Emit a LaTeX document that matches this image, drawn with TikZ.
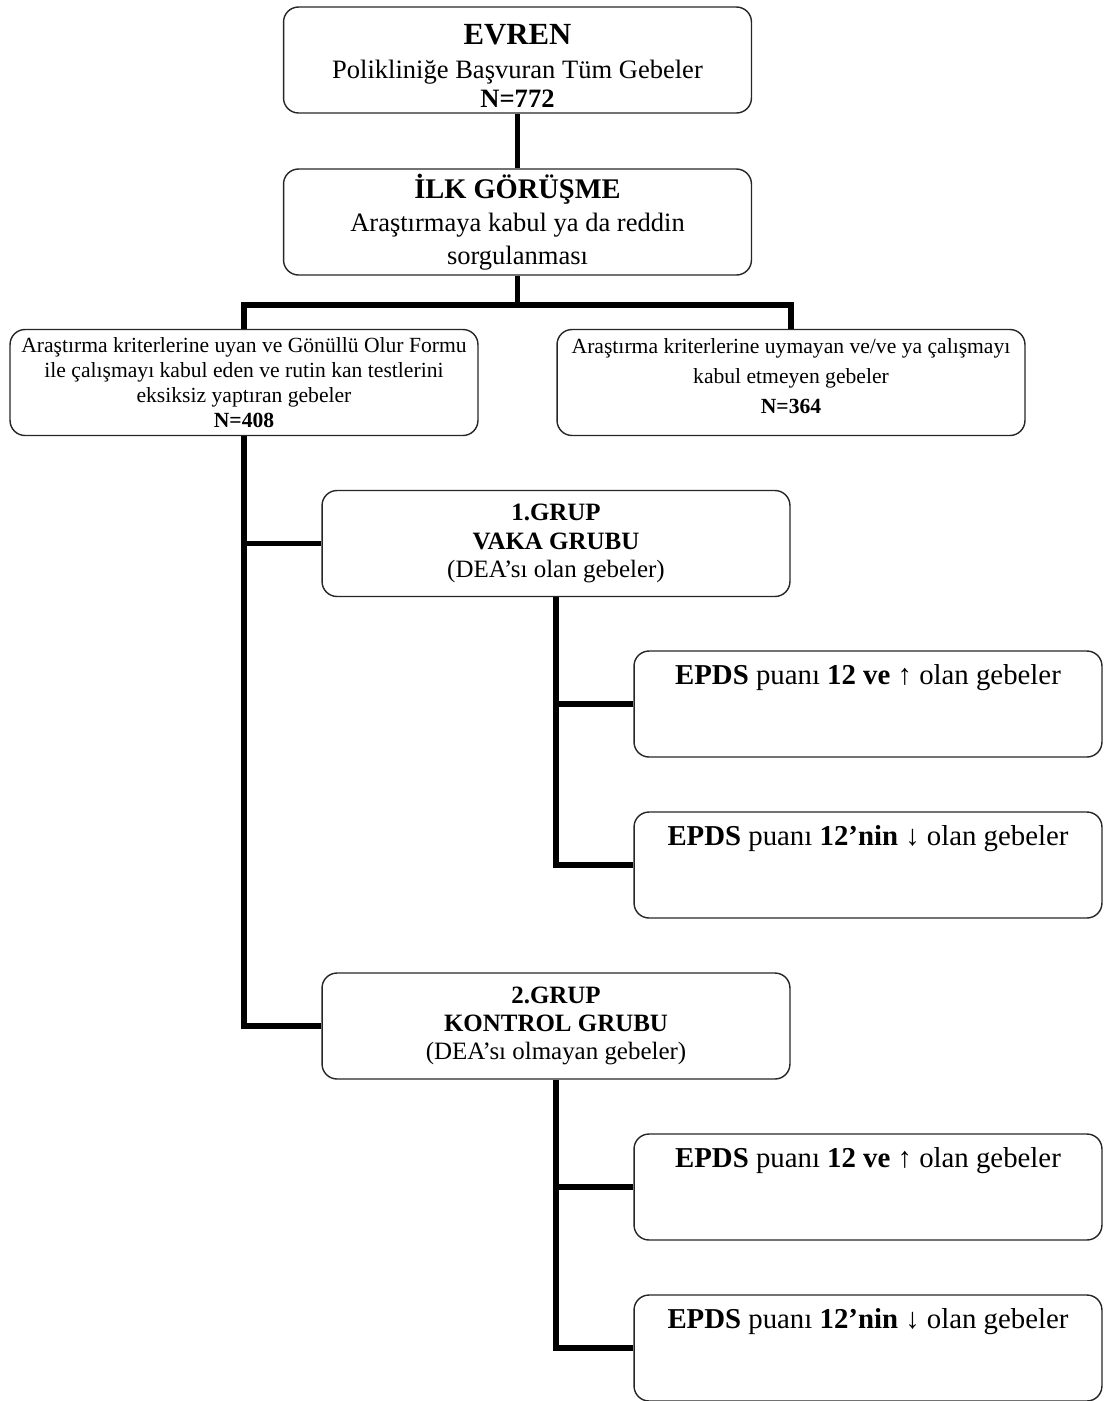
\documentclass[tikz,border=0pt]{standalone}
\usepackage{fontspec}
\setmainfont{Liberation Serif}

\begin{document}
\begin{tikzpicture}[x=0.02cm,y=-0.02cm,
  kutu/.style={draw=black!85, line width=0.8pt, rounded corners=0.3cm,
    minimum width=9.36cm, minimum height=2.12cm, align=center, inner sep=0pt},
  hat/.style={line width=3.4pt},
  orta/.style={font=\fontsize{15.1}{16.6}\selectfont},
  grupyazi/.style={font=\fontsize{14.2}{16}\selectfont},
  kucuk/.style={font=\fontsize{12.3}{14.2}\selectfont},
  epdsyazi/.style={anchor=north, inner sep=0pt, yshift=-0.27cm,
    font=\fontsize{16.4}{18}\selectfont}]

\useasboundingbox (0,0) rectangle (1107,1401);

% Evren ve ilk gorusme
\node[kutu, orta] (evren) at (517.5,60)
  {\rule{0pt}{18pt}{\fontsize{17.5}{20}\selectfont\bfseries EVREN}\\[3pt]
   Polikliniğe Başvuran Tüm Gebeler\\
   \textbf{N=772}};

\node[kutu, orta] (ilk) at (517.5,222)
  {{\fontsize{16.2}{20}\selectfont\bfseries İLK GÖRÜŞME}\\[2pt]
   Araştırmaya kabul ya da reddin\\[2pt]
   sorgulanması};

% Ayrim
\node[kutu, kucuk] (sol) at (244,382.5)
  {Araştırma kriterlerine uyan ve Gönüllü Olur Formu\\
   ile çalışmayı kabul eden ve rutin kan testlerini\\
   eksiksiz yaptıran gebeler\\
   \textbf{N=408}};

\node[kutu, kucuk] (sag) at (791,382.5)
  {Araştırma kriterlerine uymayan ve/ve ya çalışmayı\\[3pt]
   kabul etmeyen gebeler\\[3pt]
   \textbf{N=364}\\[-7pt]};

% Gruplar
\node[kutu, grupyazi] (grup1) at (556,543.5)
  {\textbf{1.GRUP}\\
   \textbf{VAKA GRUBU}\\
   (DEA’sı olan gebeler)};

\node[kutu, grupyazi] (grup2) at (556,1026)
  {\textbf{2.GRUP}\\
   \textbf{KONTROL GRUBU}\\
   (DEA’sı olmayan gebeler)};

% EPDS kutulari
\node[kutu] (e1) at (868,704) {};
\node[kutu] (e2) at (868,865) {};
\node[kutu] (e3) at (868,1187) {};
\node[kutu] (e4) at (868,1348) {};

\node[epdsyazi] (e1y) at (e1.north) {\textbf{EPDS} puanı \textbf{12 ve} ↑ olan gebeler};
\node[epdsyazi] (e2y) at (e2.north) {\textbf{EPDS} puanı \textbf{12’nin} ↓ olan gebeler};
\node[epdsyazi] (e3y) at (e3.north) {\textbf{EPDS} puanı \textbf{12 ve} ↑ olan gebeler};
\node[epdsyazi] (e4y) at (e4.north) {\textbf{EPDS} puanı \textbf{12’nin} ↓ olan gebeler};

% Baglantilar
\coordinate (ayrim) at (517.5,305);
\draw[hat] (evren) -- (ilk);
\draw[hat] (ilk) -- (ayrim);
\draw[hat] (sol.north) |- (ayrim) -| (sag.north);

\draw[hat] (sol.south) |- (grup2.west);
\draw[hat] (sol.south |- grup1.west) -- (grup1.west);

\draw[hat] (grup1.south) |- (e2.west);
\draw[hat] (grup1.south |- e1.west) -- (e1.west);

\draw[hat] (grup2.south) |- (e4.west);
\draw[hat] (grup2.south |- e3.west) -- (e3.west);

\end{tikzpicture}
\end{document}
